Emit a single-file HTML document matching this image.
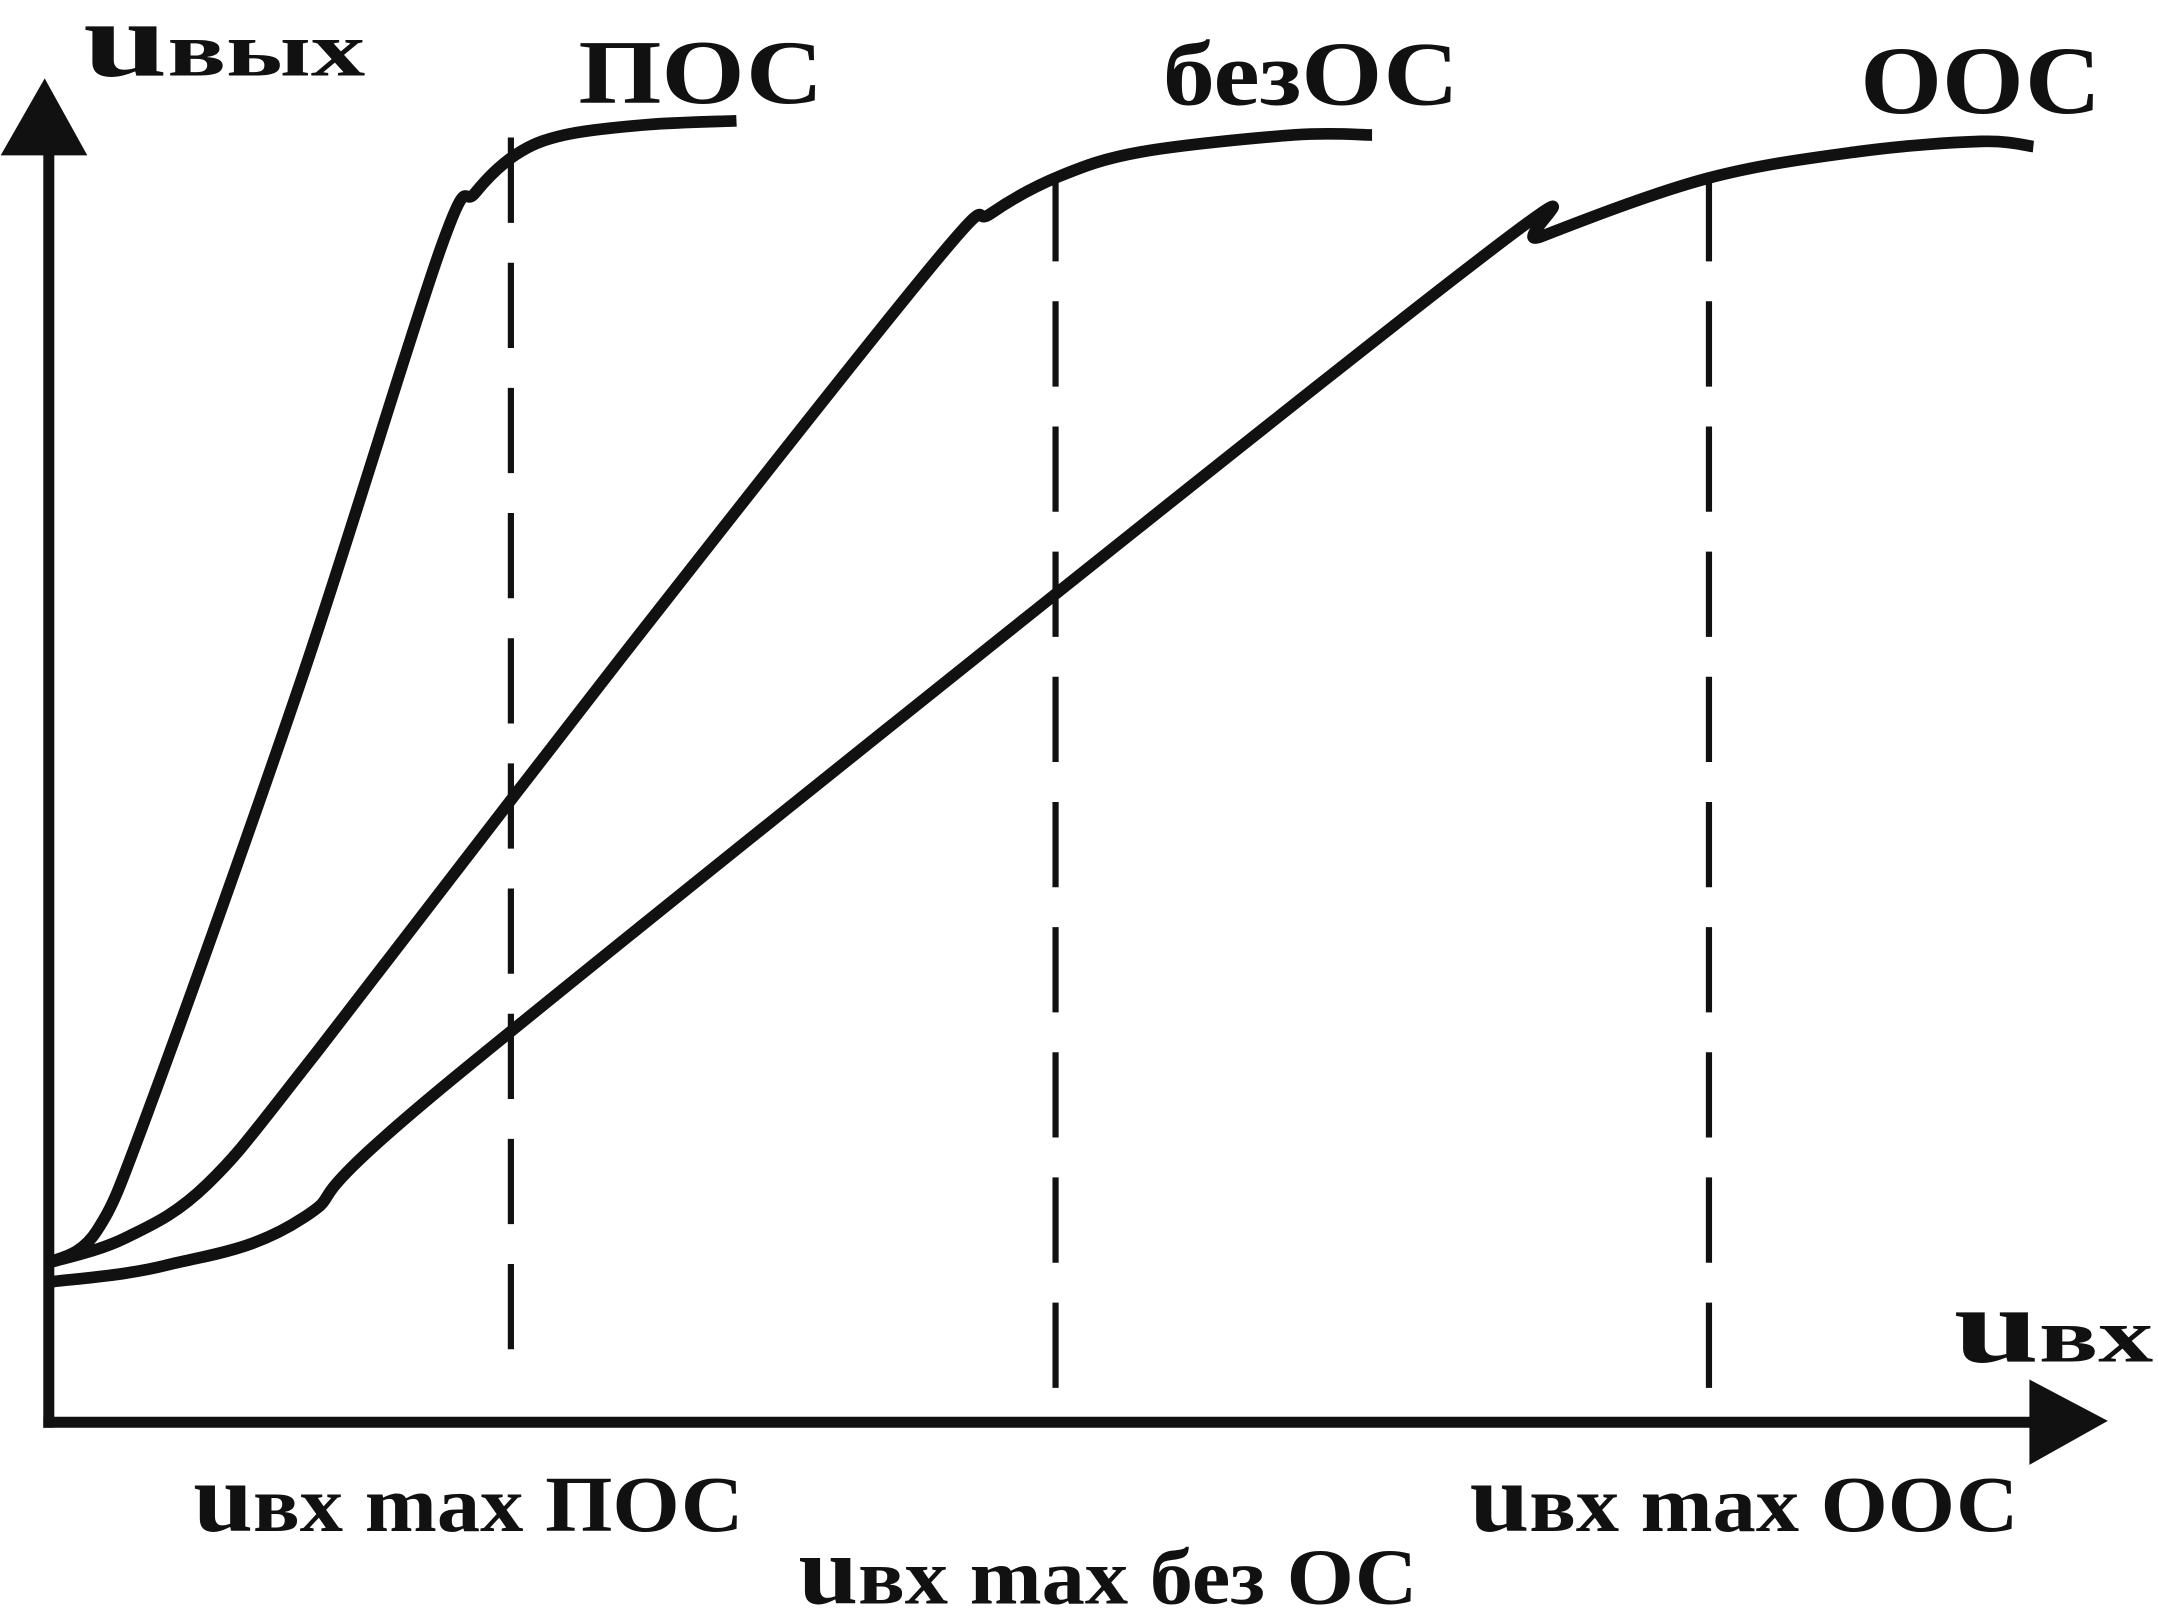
<!DOCTYPE html>
<html><head><meta charset="utf-8"><style>html,body{margin:0;padding:0;background:#fff}svg{display:block}text{font-family:"Liberation Serif",serif;font-weight:bold;fill:#111}</style></head>
<body>
<svg id="chart" width="2158" height="1612" viewBox="0 0 1568 1172" xmlns="http://www.w3.org/2000/svg">
<g id="axes">
<line x1="35" y1="1038" x2="35" y2="105" stroke="#111" stroke-width="8"/>
<polygon points="0,113 63,113 32,57" fill="#111"/>
<line x1="31" y1="1034" x2="1480" y2="1034" stroke="#111" stroke-width="8"/>
<polygon points="1475,1003 1475,1065 1532,1033" fill="#111"/>
</g>
<g id="dashes"></g>
<g id="curves"></g>
<text x="60" y="55" textLength="205" lengthAdjust="spacingAndGlyphs"><tspan font-size="78">u</tspan><tspan font-size="56">вых</tspan></text>
<text x="1420" y="990" textLength="145" lengthAdjust="spacingAndGlyphs"><tspan font-size="78">u</tspan><tspan font-size="56">вх</tspan></text>
<text x="420" y="75" font-size="66" textLength="178" lengthAdjust="spacingAndGlyphs">ПОС</text>
<text x="845" y="76" font-size="66" textLength="215" lengthAdjust="spacingAndGlyphs">безОС</text>
<text x="1352" y="82" font-size="70" textLength="175" lengthAdjust="spacingAndGlyphs">ООС</text>
<text x="140" y="1113" font-size="58" textLength="400" lengthAdjust="spacingAndGlyphs"><tspan font-size="72">u</tspan>вх max ПОС</text>
<text x="580" y="1166" font-size="58" textLength="450" lengthAdjust="spacingAndGlyphs"><tspan font-size="72">u</tspan>вх max без ОС</text>
<text x="1068" y="1113" font-size="58" textLength="399" lengthAdjust="spacingAndGlyphs"><tspan font-size="72">u</tspan>вх max ООС</text>
</svg>
<script>
const posX=[0,2.43,5.21,12.85,19.79,21.53,23.61,26.04,30.21,34.72];
const posY=[12.5,15.0,25.1,58.3,91.4,95.7,98.7,100.2,101.0,101.3];
const bezX=[0,3.82,7.99,13.54,28.82,44.79,47.57,51.04,55.21,62.85,66.81];
const bezY=[12.5,14.4,18.6,28.9,59.4,90.4,94.1,97.0,98.9,100.2,100.2];
const oosX=[0,5.9,12.85,21.18,71.18,75.35,83.68,91.32,97.57,100.2];
const oosY=[11.0,12.3,16.0,27.8,89.3,92.3,96.8,98.9,99.7,99.3];
const maxX=[23.33,50.83,83.82];
const maxTop=[100,97,97];
const maxBottom=[3.7,2.7,2.7];
function sx(v){return 35+v*14.4;}
function sy(v){return 1035-v*9.35;}
const NS="http://www.w3.org/2000/svg";
function pathFor(xs,ys){
  const p=xs.map((x,i)=>[sx(x),sy(ys[i])]);
  let d="M"+p[0][0]+","+p[0][1];
  for(let i=0;i<p.length-1;i++){
    const p0=p[i-1]||p[i],p1=p[i],p2=p[i+1],p3=p[i+2]||p2;
    const c1=[p1[0]+(p2[0]-p0[0])/6,p1[1]+(p2[1]-p0[1])/6];
    const c2=[p2[0]-(p3[0]-p1[0])/6,p2[1]-(p3[1]-p1[1])/6];
    d+=" C"+c1+" "+c2+" "+p2;
  }
  return d;
}
const cg=document.getElementById("curves");
[[posX,posY,"curve-pos"],[bezX,bezY,"curve-bez-os"],[oosX,oosY,"curve-oos"]].forEach(c=>{
  const el=document.createElementNS(NS,"path");
  el.setAttribute("d",pathFor(c[0],c[1]));
  el.setAttribute("fill","none");el.setAttribute("stroke","#111");el.setAttribute("stroke-width","8.5");
  el.setAttribute("stroke-linejoin","round");
  
  
  cg.appendChild(el);
});
const dg=document.getElementById("dashes");
const dn=["dash-max-pos","dash-max-bez-os","dash-max-oos"];
maxX.forEach((x,i)=>{
  const l=document.createElementNS(NS,"line");
  l.setAttribute("x1",sx(x));l.setAttribute("x2",sx(x));
  l.setAttribute("y1",sy(maxTop[i]));l.setAttribute("y2",sy(maxBottom[i]));
  l.setAttribute("stroke","#111");l.setAttribute("stroke-width","4.5");
  l.setAttribute("stroke-dasharray","62 29");
  
  
  dg.appendChild(l);
});
</script>
</body></html>
